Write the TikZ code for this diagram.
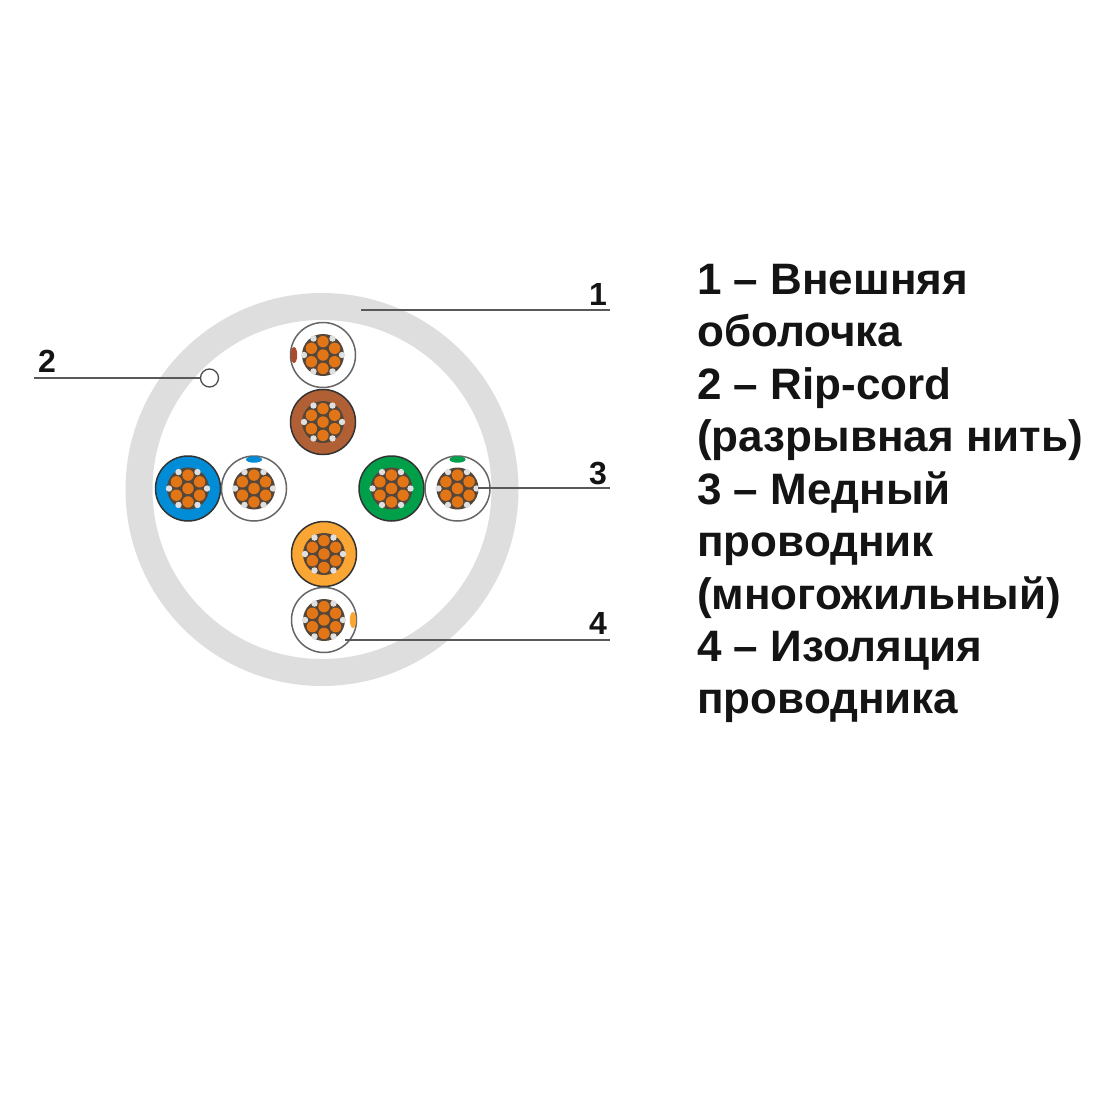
\documentclass[tikz,border=0pt]{standalone}
\usepackage{fontspec}
\setmainfont{Liberation Sans}
\definecolor{sheath}{RGB}{222,222,222}
\definecolor{wire}{RGB}{226,118,22}
\definecolor{coreDark}{RGB}{85,70,58}
\definecolor{bluec}{RGB}{0,140,214}
\definecolor{greenc}{RGB}{0,160,75}
\definecolor{brownc}{RGB}{176,96,52}
\definecolor{orangec}{RGB}{250,166,52}
\definecolor{redbrown}{RGB}{170,75,45}
\definecolor{txt}{RGB}{20,20,20}
\tikzset{
  x=1pt,y=-1pt,
  leader/.style={draw=black!65,line width=1.8pt},
  num/.style={font=\fontsize{32}{32}\selectfont\bfseries,text=txt,inner sep=0,anchor=base},
  legend/.style={font=\fontsize{44}{44}\selectfont\bfseries,text=txt,inner sep=0,anchor=base west},
  pics/bundle/.style={code={
    \fill[coreDark] (0,0) circle (21);
    \foreach \a in {0,60,...,300}{
      \fill[white!88!black] (\a:19) circle (3.2);
      \fill[wire] (\a+90:13.4) circle (5.7);
    }
    \fill[wire] (0,0) circle (5.7);
  }},
  pics/colcore/.style={code={
    \fill[#1,draw=black!80,line width=1.5pt] (0,0) circle (32.5);
    \pic {bundle};
  }},
  pics/whitecore/.style n args={2}{code={
    \fill[white,draw=black!60,line width=1.5pt] (0,0) circle (32.5);
    \fill[#1,rotate=#2] (29,0) ellipse [x radius=3.2, y radius=8];
    \pic {bundle};
  }}
}
\begin{document}
\begin{tikzpicture}
\useasboundingbox (0,0) rectangle (1100,1100);
\fill[white] (0,0) rectangle (1100,1100);
\fill[sheath,even odd rule] (322,489.5) circle (196.5) circle (169.5);

% rotate acts on the page, so the top of a ring is at rotate=90
\pic at (323,355) {whitecore={redbrown}{180}};
\pic at (323,422) {colcore=brownc};
\pic at (188,488.5) {colcore=bluec};
\pic at (254,488.5) {whitecore={bluec}{90}};
\pic at (391.5,488.5) {colcore=greenc};
\pic at (457.5,488.5) {whitecore={greenc}{90}};
\pic at (324,554) {colcore=orangec};
\pic at (324,620) {whitecore={orangec}{0}};

\node[circle,draw=black!70,fill=white,line width=1.3pt,minimum size=18pt,inner sep=0] (rip) at (209.5,378) {};

\coordinate (a1) at (361,310); \coordinate (b1) at (610,310);
\coordinate (a2) at (34,378);
\coordinate (a3) at (478,488); \coordinate (b3) at (610,488);
\coordinate (a4) at (345,640); \coordinate (b4) at (610,640);
\draw[leader] (a1) -- (b1);
\draw[leader] (a2) -- (rip.west);
\draw[leader] (a3) -- (b3);
\draw[leader] (a4) -- (b4);

\node[num] (n1) at (598,305) {1};
\node[num] (n2) at (47,372) {2};
\node[num] (n3) at (598,484) {3};
\node[num] (n4) at (598,634) {4};

\node[legend] (l1) at (697,294) {1 – Внешняя};
\node[legend] (l2) at (697,346.5) {оболочка};
\node[legend] (l3) at (697,399) {2 – Rip-cord};
\node[legend] (l4) at (697,451.5) {(разрывная нить)};
\node[legend] (l5) at (697,504) {3 – Медный};
\node[legend] (l6) at (697,556.5) {проводник};
\node[legend] (l7) at (697,609) {(многожильный)};
\node[legend] (l8) at (697,661.5) {4 – Изоляция};
\node[legend] (l9) at (697,713.5) {проводника};
\end{tikzpicture}
\end{document}
